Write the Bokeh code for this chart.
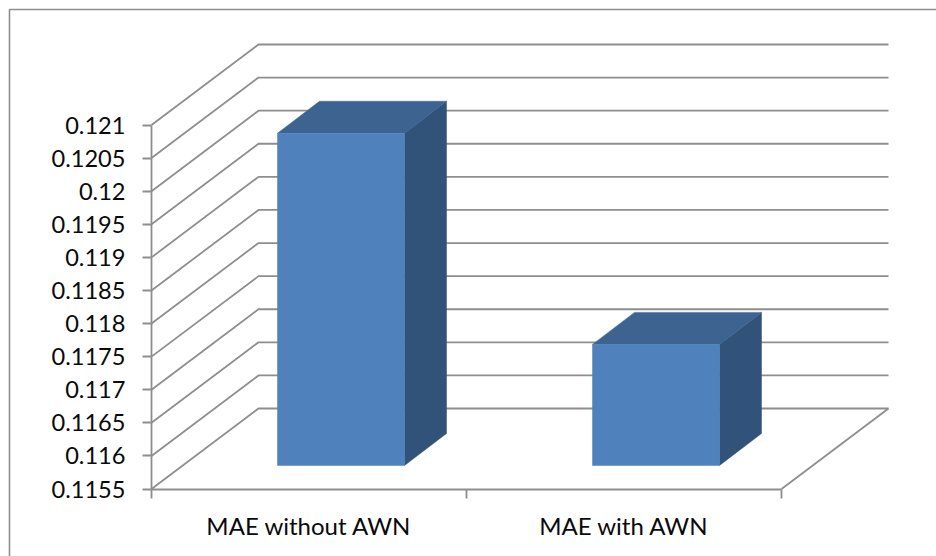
from bokeh.plotting import figure
from bokeh.models import Range1d, FixedTicker, LinearAxis
from bokeh.embed import file_html
from bokeh.resources import INLINE

categories = ["MAE without AWN", "MAE with AWN"]
mae_values = [0.12052, 0.11733]
tick_values = [0.1155, 0.116, 0.1165, 0.117, 0.1175, 0.118, 0.1185, 0.119, 0.1195, 0.12, 0.1205, 0.121]
tick_labels = ["0.1155", "0.116", "0.1165", "0.117", "0.1175", "0.118", "0.1185", "0.119", "0.1195", "0.12", "0.1205", "0.121"]

GRID = "#8e8e8e"
FRONT = "#4f81bd"
TOP = "#3d6391"
SIDE = "#325379"
TEXT = "#0a0a0a"
FONT = "Lato"

WIDTH, HEIGHT = 936, 556
AX_X, AX_Y = 151, 488.5  # pixel of the axes' origin

# scale of the pseudo-3D projection, in data units
V_PER_PX = 0.0055 / 364
X_PER_PX = 1 / 315
BACK_DX, BACK_DY = 107 * X_PER_PX, 80.5 * V_PER_PX
PLANE_DX, PLANE_DY = 32 * X_PER_PX, 23.5 * V_PER_PX
BAR_DX, BAR_DY = 42 * X_PER_PX, 32 * V_PER_PX
BAR_W = 127 * X_PER_PX
XMAX = 2.0
base = tick_values[0]

x_start = -AX_X * X_PER_PX
x_end = (WIDTH - AX_X) * X_PER_PX
y_start = base - (HEIGHT - AX_Y) * V_PER_PX
y_end = base + AX_Y * V_PER_PX

p = figure(width=WIDTH, height=HEIGHT, output_backend="svg", toolbar_location=None,
           min_border=0, x_axis_type=None, y_axis_type=None,
           x_range=Range1d(x_start, x_end), y_range=Range1d(y_start, y_end),
           outline_line_color=None, background_fill_color="white", border_fill_color="white")
p.grid.visible = False

# outer chart frame: only its left and top edges are within the picture
frame_x = x_start + 9 * X_PER_PX
frame_y = y_end - 9 * V_PER_PX
p.line([frame_x, frame_x, x_end], [y_start, frame_y, frame_y], line_color=GRID, line_width=1.6)

# walls and floor
for v in tick_values:
    p.line([0, BACK_DX, XMAX + BACK_DX], [v, v + BACK_DY, v + BACK_DY],
           line_color=GRID, line_width=1.8)
p.line([XMAX, XMAX + BACK_DX], [base, base + BACK_DY], line_color=GRID, line_width=1.8)

# bars
for i, val in enumerate(mae_values):
    x0 = i + 0.5 - BAR_W / 2 + PLANE_DX
    x1 = x0 + BAR_W
    y0 = base + PLANE_DY
    y1 = val + PLANE_DY
    p.patch([x1, x1 + BAR_DX, x1 + BAR_DX, x1],
            [y0, y0 + BAR_DY, y1 + BAR_DY, y1], fill_color=SIDE, line_color=SIDE, line_width=0.5)
    p.patch([x0, x0 + BAR_DX, x1 + BAR_DX, x1],
            [y1, y1 + BAR_DY, y1 + BAR_DY, y1], fill_color=TOP, line_color=TOP, line_width=0.5)
    p.patch([x0, x1, x1, x0], [y0, y0, y1, y1], fill_color=FRONT, line_color=FRONT, line_width=0.5)

# axes
ya = LinearAxis(fixed_location=0, ticker=FixedTicker(ticks=tick_values),
                major_label_overrides=dict(zip(tick_values, tick_labels)),
                bounds=(tick_values[0], tick_values[-1]),
                axis_line_color=GRID, axis_line_width=1.8,
                major_tick_line_color=GRID, major_tick_line_width=1.8,
                major_tick_out=9, major_tick_in=0, minor_tick_line_color=None,
                major_label_standoff=17, major_label_text_font=FONT,
                major_label_text_font_size="23.6px", major_label_text_color=TEXT)
p.add_layout(ya, "left")

xa = LinearAxis(fixed_location=base,
                ticker=FixedTicker(ticks=[0.5, 1.5], minor_ticks=[0, 1, 2]),
                major_label_overrides={0.5: categories[0], 1.5: categories[1]},
                bounds=(0, XMAX),
                axis_line_color=GRID, axis_line_width=1.8,
                major_tick_line_color=None, major_tick_out=0, major_tick_in=0,
                minor_tick_line_color=GRID, minor_tick_line_width=1.8,
                minor_tick_out=9, minor_tick_in=0,
                major_label_standoff=13, major_label_text_font=FONT,
                major_label_text_font_size="24px", major_label_text_color=TEXT)
p.add_layout(xa, "below")

open("out.html", "w").write(file_html(p, INLINE))
